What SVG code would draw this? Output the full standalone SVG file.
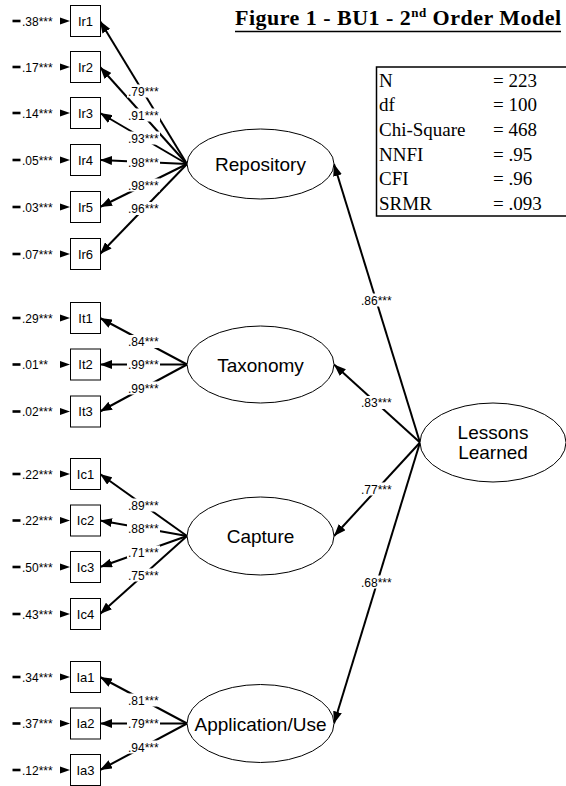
<svg xmlns="http://www.w3.org/2000/svg" xmlns:xlink="http://www.w3.org/1999/xlink" width="566" height="786" viewBox="0 0 566 786">
<style>
.bg{fill:#fff}
.box{fill:#fff;stroke:#000;stroke-width:1}
.lat{fill:#fff;stroke:#000;stroke-width:1}
.ln{fill:none;stroke:#000;stroke-width:2;marker-end:url(#ah)}
.lbl{font-family:"Liberation Sans",Arial,sans-serif;font-size:12px;fill:#000}
.blab{font-family:"Liberation Sans",Arial,sans-serif;font-size:13px;fill:#000;text-anchor:middle}
.latt{font-family:"Liberation Sans",Arial,sans-serif;font-size:19px;fill:#000;text-anchor:middle}
.mask{fill:#fff}
.tab{font-family:"Liberation Serif","Times New Roman",serif;font-size:19px;fill:#000}
.title{font-family:"Liberation Serif","Times New Roman",serif;font-size:22px;font-weight:bold;fill:#000}
</style>
<defs>
<marker id="ah" markerUnits="userSpaceOnUse" markerWidth="13" markerHeight="9" refX="12" refY="4.5" orient="auto"><path d="M0,0 L12,4.5 L0,9 z" fill="#000"/></marker>
<path id="ra" d="M60,-3.5 L70,0 L60,3.5 z" fill="#000"/>
<rect id="rd" x="12.5" y="-1.3" width="8" height="2.6" fill="#000"/>
<rect id="lm" x="127" y="-6.5" width="33" height="13" class="mask"/>
<rect id="lm2" x="360" y="-6.5" width="33" height="13" class="mask"/>
</defs>
<rect x="0" y="0" width="566" height="786" class="bg"/>

<g id="title">
<text class="title" x="235" y="25" textLength="326" lengthAdjust="spacing">Figure 1 - BU1 - 2<tspan font-size="13" dy="-8">nd</tspan><tspan dy="8"> Order Model</tspan></text>
<line x1="235" y1="31.5" x2="561" y2="31.5" stroke="#000" stroke-width="1.5"/>
</g>

<g id="fit-table">
<rect x="376.5" y="67" width="195" height="149" fill="#fff" stroke="#000" stroke-width="1.5"/>
<text class="tab" x="379" y="86.5">N</text><text class="tab" x="493" y="86.5">= 223</text>
<text class="tab" x="379" y="111">df</text><text class="tab" x="493" y="111">= 100</text>
<text class="tab" x="379" y="136">Chi-Square</text><text class="tab" x="493" y="136">= 468</text>
<text class="tab" x="379" y="160.5">NNFI</text><text class="tab" x="493" y="160.5">= .95</text>
<text class="tab" x="379" y="185">CFI</text><text class="tab" x="493" y="185">= .96</text>
<text class="tab" x="379" y="210">SRMR</text><text class="tab" x="493" y="210">= .093</text>
</g>

<g id="connectors">
<path class="ln" d="M187,164 L100,21"/>
<path class="ln" d="M187,164 L100,67"/>
<path class="ln" d="M187,164 L100,113"/>
<path class="ln" d="M187,164 L100,160"/>
<path class="ln" d="M187,164 L100,207"/>
<path class="ln" d="M187,164 L100,254"/>
<path class="ln" d="M187,364.5 L100,318"/>
<path class="ln" d="M187,364.5 L100,364.5"/>
<path class="ln" d="M187,364.5 L100,411.5"/>
<path class="ln" d="M187,536 L100,474"/>
<path class="ln" d="M187,536 L100,520.5"/>
<path class="ln" d="M187,536 L100,567"/>
<path class="ln" d="M187,536 L100,614"/>
<path class="ln" d="M187,723.5 L100,677"/>
<path class="ln" d="M187,723.5 L100,723.5"/>
<path class="ln" d="M187,723.5 L100,770"/>
<path class="ln" d="M420,442.5 L334,164"/>
<path class="ln" d="M420,442.5 L334,364.5"/>
<path class="ln" d="M420,442.5 L334,536"/>
<path class="ln" d="M420,442.5 L334,723.5"/>
<g id="loading-labels">
<use xlink:href="#lm" y="91"/><text class="lbl" x="128" y="95.5">.79***</text>
<use xlink:href="#lm" y="115"/><text class="lbl" x="128" y="119.5">.91***</text>
<use xlink:href="#lm" y="138"/><text class="lbl" x="128" y="142.5">.93***</text>
<use xlink:href="#lm" y="162"/><text class="lbl" x="128" y="166.5">.98***</text>
<use xlink:href="#lm" y="185"/><text class="lbl" x="128" y="189.5">.98***</text>
<use xlink:href="#lm" y="208.5"/><text class="lbl" x="128" y="213">.96***</text>
<use xlink:href="#lm" y="341.5"/><text class="lbl" x="128" y="346">.84***</text>
<use xlink:href="#lm" y="364.5"/><text class="lbl" x="128" y="369">.99***</text>
<use xlink:href="#lm" y="388"/><text class="lbl" x="128" y="392.5">.99***</text>
<use xlink:href="#lm" y="505"/><text class="lbl" x="128" y="509.5">.89***</text>
<use xlink:href="#lm" y="528"/><text class="lbl" x="128" y="532.5">.88***</text>
<use xlink:href="#lm" y="552"/><text class="lbl" x="128" y="556.5">.71***</text>
<use xlink:href="#lm" y="575"/><text class="lbl" x="128" y="579.5">.75***</text>
<use xlink:href="#lm" y="700"/><text class="lbl" x="128" y="704.5">.81***</text>
<use xlink:href="#lm" y="723.5"/><text class="lbl" x="128" y="728">.79***</text>
<use xlink:href="#lm" y="747"/><text class="lbl" x="128" y="751.5">.94***</text>
<use xlink:href="#lm2" y="300"/><text class="lbl" x="361" y="304.5">.86***</text>
<use xlink:href="#lm2" y="402.5"/><text class="lbl" x="361" y="407">.83***</text>
<use xlink:href="#lm2" y="489"/><text class="lbl" x="361" y="493.5">.77***</text>
<use xlink:href="#lm2" y="582"/><text class="lbl" x="361" y="586.5">.68***</text>
</g>
</g>

<g id="Ir1"><use xlink:href="#rd" y="21"/><text class="lbl" x="22" y="25.5">.38***</text><use xlink:href="#ra" y="21"/><rect class="box" x="70.5" y="5.5" width="30" height="31"/><text class="blab" x="85.5" y="25.5">Ir1</text></g>
<g id="Ir2"><use xlink:href="#rd" y="67"/><text class="lbl" x="22" y="71.5">.17***</text><use xlink:href="#ra" y="67"/><rect class="box" x="70.5" y="51.5" width="30" height="31"/><text class="blab" x="85.5" y="71.5">Ir2</text></g>
<g id="Ir3"><use xlink:href="#rd" y="113"/><text class="lbl" x="22" y="117.5">.14***</text><use xlink:href="#ra" y="113"/><rect class="box" x="70.5" y="97.5" width="30" height="31"/><text class="blab" x="85.5" y="117.5">Ir3</text></g>
<g id="Ir4"><use xlink:href="#rd" y="160"/><text class="lbl" x="22" y="164.5">.05***</text><use xlink:href="#ra" y="160"/><rect class="box" x="70.5" y="144.5" width="30" height="31"/><text class="blab" x="85.5" y="164.5">Ir4</text></g>
<g id="Ir5"><use xlink:href="#rd" y="207"/><text class="lbl" x="22" y="211.5">.03***</text><use xlink:href="#ra" y="207"/><rect class="box" x="70.5" y="191.5" width="30" height="31"/><text class="blab" x="85.5" y="211.5">Ir5</text></g>
<g id="Ir6"><use xlink:href="#rd" y="254"/><text class="lbl" x="22" y="258.5">.07***</text><use xlink:href="#ra" y="254"/><rect class="box" x="70.5" y="238.5" width="30" height="31"/><text class="blab" x="85.5" y="258.5">Ir6</text></g>

<g id="It1"><use xlink:href="#rd" y="318"/><text class="lbl" x="22" y="322.5">.29***</text><use xlink:href="#ra" y="318"/><rect class="box" x="70.5" y="302.5" width="30" height="31"/><text class="blab" x="85.5" y="322.5">It1</text></g>
<g id="It2"><use xlink:href="#rd" y="364.5"/><text class="lbl" x="22" y="369">.01**</text><use xlink:href="#ra" y="364.5"/><rect class="box" x="70.5" y="349" width="30" height="31"/><text class="blab" x="85.5" y="369">It2</text></g>
<g id="It3"><use xlink:href="#rd" y="411.5"/><text class="lbl" x="22" y="416">.02***</text><use xlink:href="#ra" y="411.5"/><rect class="box" x="70.5" y="396" width="30" height="31"/><text class="blab" x="85.5" y="416">It3</text></g>

<g id="Ic1"><use xlink:href="#rd" y="474"/><text class="lbl" x="22" y="478.5">.22***</text><use xlink:href="#ra" y="474"/><rect class="box" x="70.5" y="458.5" width="30" height="31"/><text class="blab" x="85.5" y="478.5">Ic1</text></g>
<g id="Ic2"><use xlink:href="#rd" y="520.5"/><text class="lbl" x="22" y="525">.22***</text><use xlink:href="#ra" y="520.5"/><rect class="box" x="70.5" y="505" width="30" height="31"/><text class="blab" x="85.5" y="525">Ic2</text></g>
<g id="Ic3"><use xlink:href="#rd" y="567"/><text class="lbl" x="22" y="571.5">.50***</text><use xlink:href="#ra" y="567"/><rect class="box" x="70.5" y="551.5" width="30" height="31"/><text class="blab" x="85.5" y="571.5">Ic3</text></g>
<g id="Ic4"><use xlink:href="#rd" y="614"/><text class="lbl" x="22" y="618.5">.43***</text><use xlink:href="#ra" y="614"/><rect class="box" x="70.5" y="598.5" width="30" height="31"/><text class="blab" x="85.5" y="618.5">Ic4</text></g>

<g id="Ia1"><use xlink:href="#rd" y="677"/><text class="lbl" x="22" y="681.5">.34***</text><use xlink:href="#ra" y="677"/><rect class="box" x="70.5" y="661.5" width="30" height="31"/><text class="blab" x="85.5" y="681.5">Ia1</text></g>
<g id="Ia2"><use xlink:href="#rd" y="723.5"/><text class="lbl" x="22" y="728">.37***</text><use xlink:href="#ra" y="723.5"/><rect class="box" x="70.5" y="708" width="30" height="31"/><text class="blab" x="85.5" y="728">Ia2</text></g>
<g id="Ia3"><use xlink:href="#rd" y="770"/><text class="lbl" x="22" y="774.5">.12***</text><use xlink:href="#ra" y="770"/><rect class="box" x="70.5" y="754.5" width="30" height="31"/><text class="blab" x="85.5" y="774.5">Ia3</text></g>

<g id="Repository"><ellipse class="lat" cx="260.5" cy="164" rx="73.5" ry="35"/><text class="latt" x="260.5" y="171">Repository</text></g>
<g id="Taxonomy"><ellipse class="lat" cx="260.5" cy="364.5" rx="73.5" ry="38.5"/><text class="latt" x="260.5" y="371.5">Taxonomy</text></g>
<g id="Capture"><ellipse class="lat" cx="260.5" cy="536" rx="73.5" ry="39"/><text class="latt" x="260.5" y="543">Capture</text></g>
<g id="ApplicationUse"><ellipse class="lat" cx="260.5" cy="723.5" rx="73.5" ry="39"/><text class="latt" x="260.5" y="730.5">Application/Use</text></g>
<g id="LessonsLearned"><ellipse class="lat" cx="493" cy="442.5" rx="73" ry="39.5"/><text class="latt" x="493" y="439">Lessons</text><text class="latt" x="493" y="459">Learned</text></g>
</svg>
